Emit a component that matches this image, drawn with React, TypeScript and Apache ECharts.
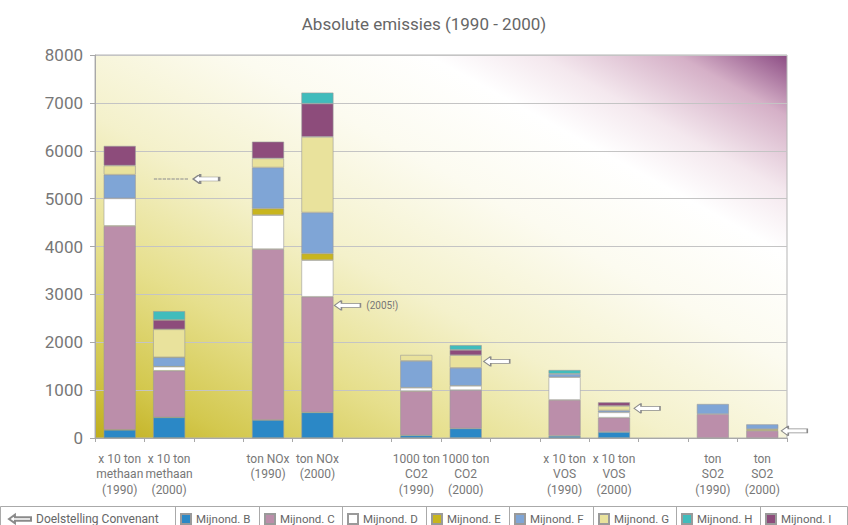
import { useEffect, useRef } from 'react';
import * as echarts from 'echarts';

const FONT = "Roboto, 'Liberation Sans', sans-serif";

// Category slots; empty strings are spacer columns between the pollutant groups.
const categories = [
  'x 10 ton\nmethaan\n(1990)', 'x 10 ton\nmethaan\n(2000)', '',
  'ton NOx\n(1990)', 'ton NOx\n(2000)', '',
  '1000 ton\nCO2\n(1990)', '1000 ton\nCO2\n(2000)', '',
  'x 10 ton\nVOS\n(1990)', 'x 10 ton\nVOS\n(2000)', '',
  'ton\nSO2\n(1990)', 'ton\nSO2\n(2000)',
];

const yTicks = [0, 1000, 2000, 3000, 4000, 5000, 6000, 7000, 8000];

const seriesNames = [
  'Mijnond. B', 'Mijnond. C', 'Mijnond. D', 'Mijnond. E',
  'Mijnond. F', 'Mijnond. G', 'Mijnond. H', 'Mijnond. I',
];

const mijnondB = [170, 430, null, 375, 535, null, 55, 200, null, 45, 125, null, null, null];
const mijnondC = [4260, 975, null, 3570, 2415, null, 925, 800, null, 750, 300, null, 500, 150];
const mijnondD = [575, 85, null, 710, 765, null, 70, 90, null, 475, 110, null, null, null];
const mijnondE = [null, null, null, 140, 140, null, null, null, null, null, null, null, null, 35];
const mijnondF = [495, 195, null, 855, 855, null, 560, 375, null, 70, 40, null, 210, 100];
const mijnondG = [190, 585, null, 190, 1580, null, 125, 265, null, null, 95, null, null, null];
const mijnondH = [null, 185, null, null, 230, null, null, 100, null, 80, null, null, null, null];
const mijnondI = [410, 195, null, 350, 695, null, null, 110, null, null, 75, null, null, null];

const seriesValues = [mijnondB, mijnondC, mijnondD, mijnondE, mijnondF, mijnondG, mijnondH, mijnondI];

// Covenant targets (Doelstelling Convenant), one per 2000 column.
const targetSlots = [1, 4, 7, 10, 13];
const targetValues = [5410, 2770, 1600, 620, 150];
const targetNote = ['', '(2005!)', '', '', ''];

// Styling
const seriesColors = ['#2b88c6', '#bb8eaa', '#ffffff', '#c8b51e', '#7fa5d6', '#e9e29c', '#40bcbc', '#8d4c7b'];
// Bottom-to-top stacking order: H (teal) sits on top of I (purple).
const stackOrder = [0, 1, 2, 3, 4, 5, 7, 6];
const arrowShift = [18, 30, 31, 33, 32];
const LEGEND_START = 180;
const LEGEND_STEP = 83.5;

const ARROW = 'path://M0,5L7,0L7,3L26,3L26,7L7,7L7,10Z';
const dashes = Array.from({ length: 8 }, (_, i) => {
  const x = (i * 4.4).toFixed(1);
  return `M${x},4.8h0.8v0.4h-0.8Z`;
}).join('');
const DASHED_ARROW = `path://${dashes}M38,5L45,0L45,3L64,3L64,7L45,7L45,10Z`;

export default function App() {
  const ref = useRef<HTMLDivElement>(null);

  useEffect(() => {
    document.body.style.margin = '0';
    const chart = echarts.init(ref.current!, null, { renderer: 'svg' });

    const plotBg = new echarts.graphic.LinearGradient(0, 1, 1, 0, [
      { offset: 0, color: '#c0ae1c' },
      { offset: 0.1, color: '#d3c84e' },
      { offset: 0.25, color: '#e6df8c' },
      { offset: 0.42, color: '#f4f1cb' },
      { offset: 0.6, color: '#fcfbf0' },
      { offset: 0.74, color: '#ffffff' },
      { offset: 0.82, color: '#f4e8ee' },
      { offset: 0.92, color: '#d5b0c7' },
      { offset: 1, color: '#8c4c84' },
    ]);

    const barSeries = stackOrder.map((i) => ({
      name: seriesNames[i],
      type: 'bar',
      stack: 'total',
      barWidth: 32,
      data: seriesValues[i],
      itemStyle: { color: seriesColors[i], borderColor: '#9a9a9a', borderWidth: 0.6 },
    }));

    const targetData = targetSlots.map((slot, i) => ({
      value: [slot, targetValues[i]],
      symbol: i === 0 ? DASHED_ARROW : ARROW,
      symbolSize: i === 0 ? [64, 10] : [26, 10],
      symbolOffset: [arrowShift[i], 0],
      label: targetNote[i]
        ? {
            show: true,
            position: 'right',
            distance: 5,
            formatter: targetNote[i],
            color: '#777',
            fontSize: 10,
            fontFamily: FONT,
          }
        : { show: false },
    }));

    const legendText = { color: '#666', fontSize: 11.5, fontFamily: FONT };
    const legendLefts = seriesNames.map((_, i) => Math.round(LEGEND_START + i * LEGEND_STEP));
    const legends: any[] = [
      {
        data: ['Doelstelling Convenant'],
        left: 8,
        top: 513,
        itemWidth: 22,
        itemHeight: 9,
        itemGap: 0,
        padding: 0,
        textStyle: { ...legendText, fontSize: 12 },
        selectedMode: false,
      },
      ...seriesNames.map((name, i) => ({
        data: [name],
        left: legendLefts[i],
        top: 513,
        itemWidth: 10,
        itemHeight: 10,
        padding: 0,
        icon: 'rect',
        textStyle: legendText,
        selectedMode: false,
      })),
    ];

    chart.setOption({
      animation: false,
      backgroundColor: '#ffffff',
      title: {
        text: 'Absolute emissies (1990 - 2000)',
        left: 'center',
        top: 10,
        textStyle: { color: '#666', fontSize: 17, fontWeight: 'normal', fontFamily: FONT },
      },
      grid: {
        left: 95,
        right: 61,
        top: 55,
        bottom: 87,
        show: true,
        backgroundColor: plotBg,
        borderColor: '#b5b5b5',
        borderWidth: 1,
      },
      legend: legends,
      graphic: [
        {
          type: 'rect',
          shape: { x: 0.5, y: 506.5, width: 847, height: 30 },
          style: { fill: 'none', stroke: '#aaaaaa', lineWidth: 1 },
          silent: true,
        },
        ...legendLefts.map((x) => ({
          type: 'line',
          shape: { x1: x - 4.5, y1: 507, x2: x - 4.5, y2: 525 },
          style: { stroke: '#aaaaaa', lineWidth: 1 },
          silent: true,
        })),
      ],
      xAxis: {
        type: 'category',
        data: categories,
        axisLine: { lineStyle: { color: '#a8a8a8' } },
        axisTick: { show: true, alignWithLabel: false, length: 4, lineStyle: { color: '#a8a8a8' } },
        axisLabel: {
          interval: 0,
          color: '#777',
          fontSize: 12,
          lineHeight: 15.5,
          margin: 13,
          fontFamily: FONT,
        },
      },
      yAxis: {
        type: 'value',
        min: yTicks[0],
        max: yTicks[yTicks.length - 1],
        interval: yTicks[1] - yTicks[0],
        axisLine: { show: true, lineStyle: { color: '#a8a8a8' } },
        axisTick: { show: true, length: 5, lineStyle: { color: '#a8a8a8' } },
        axisLabel: {
          color: '#777',
          fontSize: 17,
          margin: 12,
          fontFamily: FONT,
          formatter: (v: number) => String(v),
        },
        splitLine: { lineStyle: { color: '#c4c4c4', width: 1 } },
      },
      series: [
        ...barSeries,
        {
          name: 'Doelstelling Convenant',
          type: 'scatter',
          symbol: ARROW,
          symbolSize: [26, 10],
          itemStyle: { color: '#ffffff', borderColor: '#8a8a8a', borderWidth: 1, opacity: 1 },
          data: targetData,
          z: 5,
        },
      ],
    });

    return () => chart.dispose();
  }, []);

  return <div ref={ref} style={{ width: 848, height: 525 }} />;
}
